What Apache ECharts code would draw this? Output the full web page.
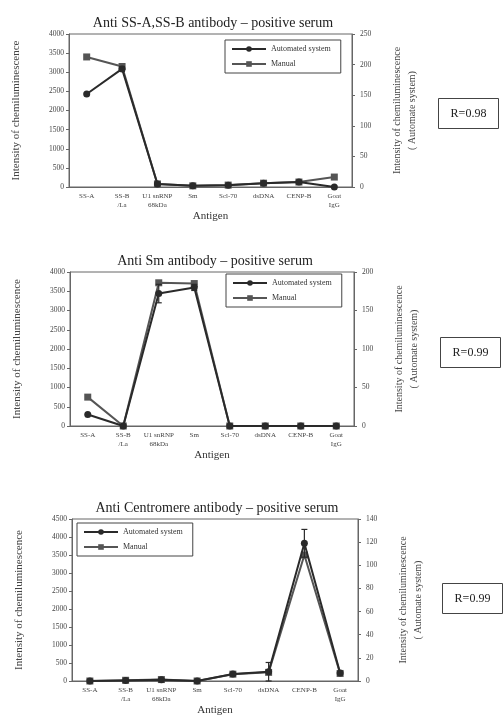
<!DOCTYPE html>
<html><head><meta charset="utf-8">
<script src="https://cdn.jsdelivr.net/npm/echarts@6/dist/echarts.min.js"></script>
<style>html,body{margin:0;padding:0;background:#fff}#c{width:504px;height:717px}</style>
</head><body><div id="c"></div>
<script>
const categories = ['SS-A','SS-B\n/La','U1 snRNP\n68kDa','Sm','Scl-70','dsDNA','CENP-B','Goat\nIgG'];
const titles = ['Anti SS-A,SS-B antibody \u2013 positive serum','Anti Sm antibody \u2013 positive serum','Anti Centromere antibody \u2013 positive serum'];
const rLabels = ['R=0.98','R=0.99','R=0.99'];
// Manual (left axis) and Automated system (right axis)
const manual1 = [3400, 3150, 80, 30, 50, 100, 130, 260];
const auto1   = [152, 193, 5, 2, 3, 6, 8, 0];
const manual2 = [750, 0, 3720, 3700, 0, 0, 0, 0];
const auto2   = [15, 0, 172, 180, 0, 0, 0, 0];
const manual3 = [0, 20, 40, 0, 190, 240, 3500, 210];
const auto3   = [0, 0.5, 1, 0, 6, 8, 119, 7];
const err1 = [0, 4, 0, 0, 0, 0, 0, 0];
const err2 = [0, 0, 12, 4, 0, 0, 0, 0];
const err3 = [0, 0, 0, 0, 0, 8, 12, 0];
const leftAxes = [{max:4000, interval:500},{max:4000, interval:500},{max:4500, interval:500}];
const rightAxes = [{max:250, interval:50},{max:200, interval:50},{max:140, interval:20}];

const FONT = '"Liberation Serif", "DejaVu Serif", serif';
const INK = '#333';
const grids = [
  {left:69, top:34, width:283, height:153},
  {left:70, top:272, width:284, height:154},
  {left:72, top:519, width:286, height:162}
];
const legendPos = [
  {left:225, top:40},
  {left:226, top:274},
  {left:77, top:523}
];
const titlePos = [{x:208, y:11},{x:210, y:249},{x:212, y:496}];
const rBox = [{x:438, y:98},{x:440, y:337},{x:442, y:583}];
const manuals = [manual1, manual2, manual3];
const autos = [auto1, auto2, auto3];
const errs = [err1, err2, err3];
const plain = v => String(v);

const option = {
  animation: false,
  backgroundColor: '#fff',
  textStyle: {fontFamily: FONT, color: INK},
  title: titles.map((t,i)=>({text:t, left:titlePos[i].x, top:titlePos[i].y, textAlign:'center',
    textStyle:{fontFamily:FONT, fontSize:14, fontWeight:'normal', color:'#222'}})),
  grid: grids.map(g=>Object.assign({show:true, borderColor:'#666', borderWidth:1, backgroundColor:'transparent', containLabel:false}, g)),
  legend: legendPos.map((p,i)=>({
    left:p.left, top:p.top, orient:'vertical', data:['Automated system','Manual'],
    borderColor:'#444', borderWidth:1, padding:[5,10,5,6], itemGap:7, itemWidth:34, itemHeight:7,
    textStyle:{fontFamily:FONT, fontSize:8, color:'#333'}, selectedMode:false
  })),
  xAxis: grids.map((g,i)=>({
    type:'category', gridIndex:i, data:categories, boundaryGap:true,
    name:'Antigen', nameLocation:'middle', nameGap: 24,
    nameTextStyle:{fontFamily:FONT, fontSize:11, color:'#333'},
    axisLine:{lineStyle:{color:'#666'}}, axisTick:{show:false},
    axisLabel:{fontFamily:FONT, fontSize:7, color:'#444', interval:0, lineHeight:9, margin:5}
  })),
  yAxis: [].concat(...grids.map((g,i)=>[
    {type:'value', gridIndex:i, min:0, max:leftAxes[i].max, interval:leftAxes[i].interval, position:'left',
     name:'Intensity of chemiluminescence', nameLocation:'middle', nameGap:47, nameRotate:90,
     nameTextStyle:{fontFamily:FONT, fontSize:11, color:'#444'},
     axisLine:{show:true, lineStyle:{color:'#666'}}, axisTick:{show:true, length:3, lineStyle:{color:'#666'}},
     splitLine:{show:false}, axisLabel:{fontFamily:FONT, fontSize:7.5, color:'#444', margin:5, formatter:plain}},
    {type:'value', gridIndex:i, min:0, max:rightAxes[i].max, interval:rightAxes[i].interval, position:'right',
     name:'Intensity of chemiluminescence\n( Automate system)', nameLocation:'middle', nameGap:38, nameRotate:90,
     nameTextStyle:{fontFamily:FONT, fontSize:10, color:'#444', lineHeight:15},
     axisLine:{show:true, lineStyle:{color:'#666'}}, axisTick:{show:true, length:3, lineStyle:{color:'#666'}},
     splitLine:{show:false}, axisLabel:{fontFamily:FONT, fontSize:7.5, color:'#444', margin:8, formatter:plain}}
  ])),
  series: [].concat(...grids.map((g,i)=>[
    {name:'Manual', type:'line', xAxisIndex:i, yAxisIndex:2*i, data:manuals[i],
     symbol:'rect', symbolSize:7, lineStyle:{color:'#555', width:2}, itemStyle:{color:'#555'}, z:3},
    {name:'Automated system', type:'line', xAxisIndex:i, yAxisIndex:2*i+1, data:autos[i],
     symbol:'circle', symbolSize:7, lineStyle:{color:'#2a2a2a', width:2}, itemStyle:{color:'#2a2a2a'}, z:4},
    {type:'custom', xAxisIndex:i, yAxisIndex:2*i+1, silent:true, z:5,
     data: autos[i].map((v,k)=>[k, v, errs[i][k]]),
     renderItem:(params, api)=>{
       const e = api.value(2);
       if (!e) return null;
       const x = api.value(0), v = api.value(1);
       const hi = api.coord([x, v+e]), lo = api.coord([x, v-e]);
       const st = {stroke:'#2a2a2a', lineWidth:1.2};
       return {type:'group', children:[
         {type:'line', shape:{x1:hi[0], y1:hi[1], x2:lo[0], y2:lo[1]}, style:st},
         {type:'line', shape:{x1:hi[0]-3, y1:hi[1], x2:hi[0]+3, y2:hi[1]}, style:st},
         {type:'line', shape:{x1:lo[0]-3, y1:lo[1], x2:lo[0]+3, y2:lo[1]}, style:st}
       ]};
     }}
  ])),
  graphic: rBox.map((b,i)=>({
    type:'group', left:b.x, top:b.y, children:[
      {type:'rect', shape:{x:0, y:0, width:60, height:30}, style:{fill:'#fff', stroke:'#444', lineWidth:1}},
      {type:'text', x:30, y:15, style:{text:rLabels[i], fontFamily:FONT, fontSize:12, fill:'#222', align:'center', verticalAlign:'middle'}}
    ]
  }))
};
const chart = echarts.init(document.getElementById('c'), null, {renderer:'canvas'});
chart.setOption(option);
</script></body></html>
